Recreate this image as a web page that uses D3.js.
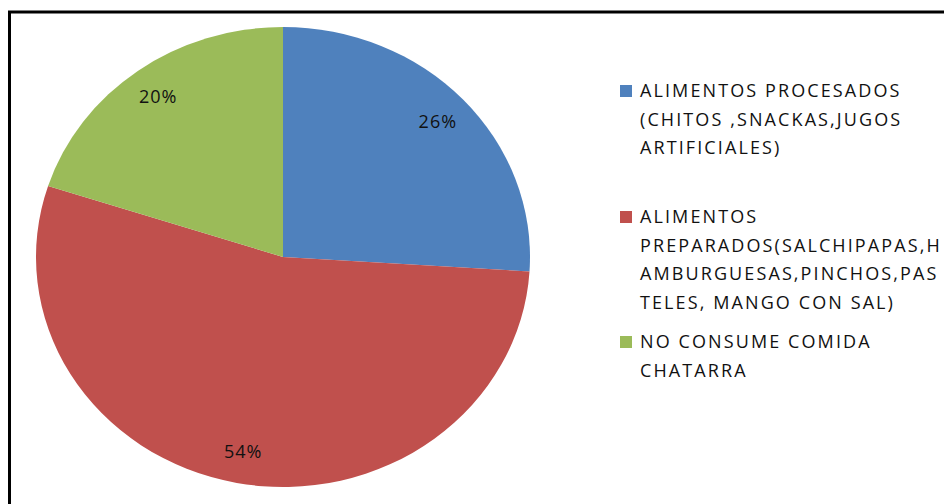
<!DOCTYPE html>
<html>
<head>
<meta charset="utf-8">
<script src="https://cdn.jsdelivr.net/npm/d3@7"></script>
<style>
  body { margin: 0; background: #fff; }
  svg { display: block; }
</style>
</head>
<body>
<div id="chart"></div>
<script>
const categories = [
  ['ALIMENTOS PROCESADOS', '(CHITOS ,SNACKAS,JUGOS', 'ARTIFICIALES)'],
  ['ALIMENTOS', 'PREPARADOS(SALCHIPAPAS,H', 'AMBURGUESAS,PINCHOS,PAS', 'TELES, MANGO CON SAL)'],
  ['NO CONSUME COMIDA', 'CHATARRA']
];
const values = [26, 54, 20];
const colors = ['#4f81bd', '#c0504d', '#9bbb59'];

const width = 944, height = 504;
const cx = 283, cy = 257, rx = 247, ry = 230;

const svg = d3.select('#chart').append('svg')
  .attr('width', width)
  .attr('height', height);

// frame (only top and left edges visible in the window)
svg.append('rect')
  .attr('x', 9.5).attr('y', 12)
  .attr('width', 960).attr('height', 520)
  .attr('fill', 'none')
  .attr('stroke', '#000')
  .attr('stroke-width', 3);

const pie = d3.pie().sort(null).value(d => d);
const arcs = pie(values);
const arc = d3.arc().innerRadius(0).outerRadius(ry);
const labelArc = d3.arc().innerRadius(ry * 0.86).outerRadius(ry * 0.86);

// stretch the pie a bit wider, as in the original
const g = svg.append('g')
  .attr('transform', `translate(${cx},${cy}) scale(${rx / ry},1)`);

g.selectAll('path')
  .data(arcs)
  .join('path')
  .attr('d', arc)
  .attr('fill', (d, i) => colors[i]);

svg.append('g')
  .attr('transform', `translate(${cx},${cy})`)
  .selectAll('text')
  .data(arcs)
  .join('text')
  .attr('x', d => labelArc.centroid(d)[0] * rx / ry)
  .attr('y', d => labelArc.centroid(d)[1])
  .attr('dy', '0.35em')
  .attr('text-anchor', 'middle')
  .attr('font-family', 'Open Sans, sans-serif')
  .attr('font-size', 18)
  .attr('letter-spacing', 1)
  .attr('fill', '#111')
  .text(d => d.data + '%');

// legend
const legendTops = [91, 217, 342];
const legend = svg.append('g')
  .attr('font-family', 'Open Sans, sans-serif')
  .attr('font-size', 18)
  .attr('fill', '#111');

categories.forEach((lines, i) => {
  const item = legend.append('g').attr('transform', `translate(620,${legendTops[i]})`);
  item.append('rect')
    .attr('x', 0).attr('y', -6)
    .attr('width', 12).attr('height', 12)
    .attr('fill', colors[i]);
  item.selectAll('text')
    .data(lines)
    .join('text')
    .attr('x', 20)
    .attr('y', (d, j) => j * 28.5)
    .attr('dy', '0.35em')
    .attr('letter-spacing', 2.1)
    .text(d => d);
});
</script>
</body>
</html>
